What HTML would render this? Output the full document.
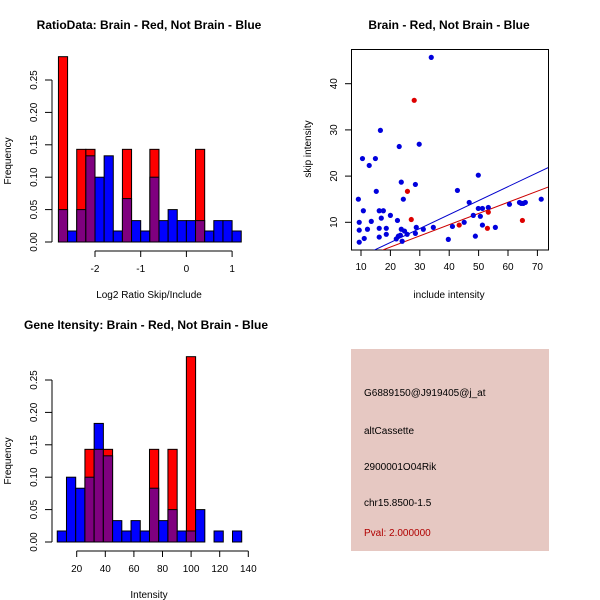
<!DOCTYPE html>
<html><head><meta charset="utf-8"><style>
body{margin:0;background:#fff}
svg{display:block;font-family:"Liberation Sans",sans-serif}
</style></head><body>
<svg id="c" width="600" height="600" viewBox="0 0 600 600">
<rect width="600" height="600" fill="#fff"/>
<text x="149" y="29" font-size="12" font-weight="bold" text-anchor="middle">RatioData: Brain - Red, Not Brain - Blue</text>
<text x="449" y="29" font-size="12" font-weight="bold" text-anchor="middle">Brain - Red, Not Brain - Blue</text>
<text x="146" y="329" font-size="12" font-weight="bold" text-anchor="middle">Gene Itensity: Brain - Red, Not Brain - Blue</text>
<text x="149" y="298" font-size="10" text-anchor="middle">Log2 Ratio Skip/Include</text>
<text x="149" y="598" font-size="10" text-anchor="middle">Intensity</text>
<text x="449" y="298" font-size="10" text-anchor="middle">include intensity</text>
<text transform="translate(11,161) rotate(-90)" font-size="10" text-anchor="middle">Frequency</text>
<text transform="translate(11,461) rotate(-90)" font-size="10" text-anchor="middle">Frequency</text>
<text transform="translate(311,149) rotate(-90)" font-size="10" text-anchor="middle">skip intensity</text>
<rect x="351" y="349" width="198" height="202" fill="#e6c8c2"/>
<text x="364" y="396" font-size="10">G6889150@J919405@j_at</text>
<text x="364" y="434" font-size="10">altCassette</text>
<text x="364" y="470" font-size="10">2900001O04Rik</text>
<text x="364" y="506" font-size="10">chr15.8500-1.5</text>
<text x="364" y="536" font-size="10" fill="#b00000">Pval: 2.000000</text>
</svg>
<script>
const ratioBlue=[0.05,0.017,0.05,0.133,0.10,0.133,0.017,0.067,0.033,0.017,0.10,0.033,0.05,0.033,0.033,0.033,0.017,0.033,0.033,0.017];
const ratioRed=[0.286,0,0.143,0.143,0,0,0,0.143,0,0,0.143,0,0,0,0,0.143,0,0,0,0];
const ratioTicks=[-2,-1,0,1];
const intBlue=[0.017,0.10,0.083,0.10,0.183,0.133,0.033,0.017,0.033,0.017,0.083,0.033,0.05,0.017,0.017,0.05,0,0.017,0,0.017];
const intRed=[0,0,0,0.143,0.143,0.143,0,0,0,0,0.143,0,0.143,0,0.286,0,0,0,0,0];
const intTicks=[20,40,60,80,100,120,140];
const freqTicks=[0,0.05,0.10,0.15,0.20,0.25];
const blueX=[9.1,9.4,9.4,9.4,10.5,10.8,11.1,12.2,12.8,13.5,14.9,15.2,16.2,16.2,16.2,16.6,16.9,17.6,18.6,18.6,20,22.4,22,22.7,23,23.4,23.7,23.7,24.4,24.8,24,25.7,28.5,28.5,28.8,29.8,31.2,33.9,34.6,39.7,41.1,42.8,45.1,46.8,48.2,48.9,49.9,49.9,50.6,51.3,51.3,53.3,55.7,60.5,63.9,64.5,65.2,65.9,71.3];
const blueY=[15,10,8.3,5.7,23.8,12.5,6.5,8.5,22.3,10.2,23.8,16.7,12.5,8.7,6.8,29.9,10.9,12.5,8.7,7.4,11.5,10.4,6.4,7,26.4,7.2,18.7,8.5,15,8.1,5.9,7.4,18.2,7.6,8.9,26.9,8.5,45.7,8.9,6.3,9.1,16.9,10,14.3,11.5,7,20.2,13,11.3,13,9.4,13.2,8.9,13.9,14.3,14.1,14.1,14.3,15];
const redX=[28.1,25.8,27.1,43.4,53,53.3,64.9];
const redY=[36.4,16.7,10.6,9.4,8.7,12.2,10.4];
const blueFit=[-0.4,0.302];
const redFit=[-0.2,0.242];
const sxTicks=[10,20,30,40,50,60,70];
const syTicks=[10,20,30,40];

const svg=document.getElementById('c');
const NS='http://www.w3.org/2000/svg';
function mk(tag,attrs,parent){const e=document.createElementNS(NS,tag);for(const k in attrs)e.setAttribute(k,attrs[k]);(parent||svg).appendChild(e);return e;}

function hist(blue,red,x0,bw,xs,yBase,xTicks,prefix){
  const g=mk('g',{});
  
  
  const ys=v=>yBase-v*648;
  blue.forEach((b,i)=>{
    const r=red[i];
    const xl=xs(x0+i*bw), xr=xs(x0+(i+1)*bw);
    const hi=Math.max(b,r), lo=Math.min(b,r);
    if(hi>0){
      const c=(r>b)?'#ff0000':'#0000ff';
      const el=mk('rect',{x:xl,y:ys(hi),width:xr-xl,height:ys(0)-ys(hi),fill:c,stroke:'#000','stroke-width':1},g);
      
      
    }
    if(lo>0){
      const el=mk('rect',{x:xl,y:ys(lo),width:xr-xl,height:ys(0)-ys(lo),fill:'#7f007f',stroke:'#000','stroke-width':1},g);
      
      
    }
  });
  // y axis
  const ya=mk('g',{});
  
  
  mk('line',{x1:52,x2:52,y1:ys(0),y2:ys(0.25),stroke:'#000'},ya);
  freqTicks.forEach(t=>{
    mk('line',{x1:45,x2:52,y1:ys(t),y2:ys(t),stroke:'#000'},ya);
    const tx=mk('text',{transform:`translate(37,${ys(t)}) rotate(-90)`,'font-size':10,'text-anchor':'middle'},ya);
    tx.textContent=t.toFixed(2);
  });
  const xa=mk('g',{});
  
  
  const ay=yBase+9;
  mk('line',{x1:xs(xTicks[0]),x2:xs(xTicks[xTicks.length-1]),y1:ay,y2:ay,stroke:'#000'},xa);
  xTicks.forEach(t=>{
    mk('line',{x1:xs(t),x2:xs(t),y1:ay,y2:ay+6,stroke:'#000'},xa);
    const tx=mk('text',{x:xs(t),y:ay+21,'font-size':10,'text-anchor':'middle'},xa);
    tx.textContent=t;
  });
}
hist(ratioBlue,ratioRed,-2.8,0.2,v=>95+(v+2)*45.7,242,ratioTicks,'ratio');
hist(intBlue,intRed,6.4,6.45,v=>76.7+(v-20)*1.43,542,intTicks,'intensity');

// scatter
const sx=v=>361+(v-10)*2.94, sy=v=>222.3-(v-10)*4.62;
const box=mk('rect',{x:351.5,y:49.5,width:197,height:200.5,fill:'none',stroke:'#000'});


const clip=mk('clipPath',{id:'cp'});mk('rect',{x:352,y:50,width:196,height:200},clip);
const sax=mk('g',{});


sxTicks.forEach(t=>{mk('line',{x1:sx(t),x2:sx(t),y1:250,y2:256,stroke:'#000'},sax);const tx=mk('text',{x:sx(t),y:270,'font-size':10,'text-anchor':'middle'},sax);tx.textContent=t;});
const say=mk('g',{});


syTicks.forEach(t=>{mk('line',{x1:345,x2:352,y1:sy(t),y2:sy(t),stroke:'#000'},say);const tx=mk('text',{transform:`translate(337,${sy(t)}) rotate(-90)`,'font-size':10,'text-anchor':'middle'},say);tx.textContent=t;});
function fit(p,c,n){const x1=0,x2=80;const l=mk('line',{x1:sx(x1),y1:sy(p[0]+p[1]*x1),x2:sx(x2),y2:sy(p[0]+p[1]*x2),stroke:c,'stroke-width':1,'clip-path':'url(#cp)'});}
fit(blueFit,'#0000cc','blue-fit-line');
fit(redFit,'#cc0000','red-fit-line');
blueX.forEach((x,i)=>{const c=mk('circle',{cx:sx(x),cy:sy(blueY[i]),r:2.6,fill:'#0000dd'});});
redX.forEach((x,i)=>{const c=mk('circle',{cx:sx(x),cy:sy(redY[i]),r:2.6,fill:'#dd0000'});});
</script>
</body></html>
